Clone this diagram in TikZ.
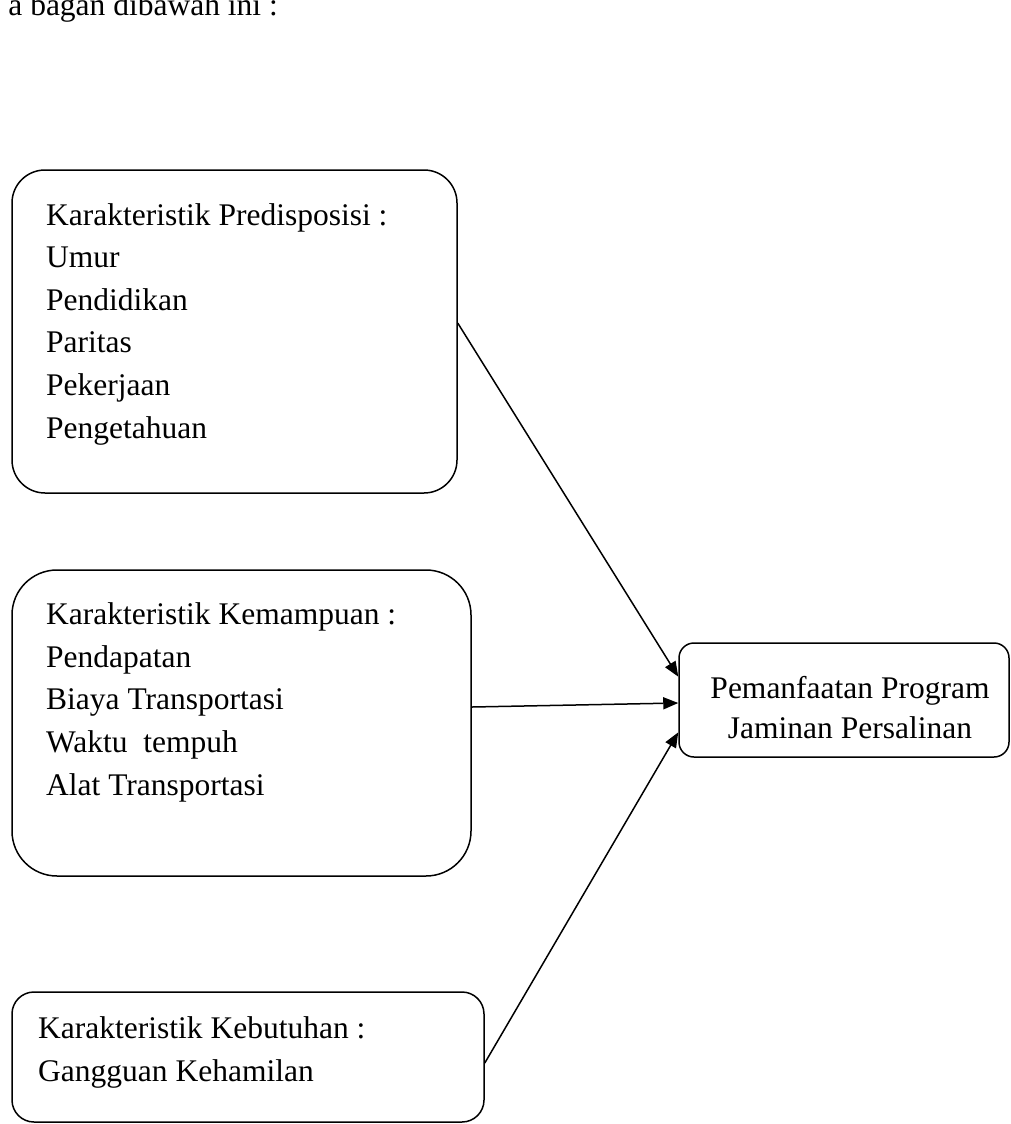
\documentclass[tikz,border=0pt]{standalone}
\usepackage{fontspec}
\setmainfont{Liberation Serif}
\usetikzlibrary{arrows.meta,calc}
\begin{document}
\begin{tikzpicture}[x=1pt,y=-1pt,
  boxshape/.style={draw, line width=1.5pt, inner sep=0pt, rectangle},
  txt/.style={inner sep=0pt, align=left, anchor=base west,
    font={\fontsize{31.5}{42.6}\selectfont}},
  conn/.style={line width=1.5pt, -{Triangle[length=15pt,width=12pt]}}]
\useasboundingbox (0,0) rectangle (1011,1124);
% top cut-off line of text
\node[inner sep=0pt, anchor=base east, font={\fontsize{31.5}{42.6}\selectfont}] (intro) at (278,16) {a bagan dibawah ini :};
% boxes
\node[boxshape, rounded corners=33pt, minimum width=445pt, minimum height=323pt] (b1) at (234.5,331.5) {};
\node[boxshape, rounded corners=45pt, minimum width=459pt, minimum height=306pt] (b2) at (241.5,723) {};
\node[boxshape, rounded corners=22pt, minimum width=472pt, minimum height=130pt] (b3) at (248,1057) {};
\node[boxshape, rounded corners=15pt, minimum width=330pt, minimum height=114pt] (b4) at (844,700) {};
% texts (anchored at the baseline of their last line)
\node[txt] (t1) at (46,438) {Karakteristik Predisposisi :\\Umur\\Pendidikan\\Paritas\\Pekerjaan\\Pengetahuan};
\node[txt] (t2) at (46,795) {Karakteristik Kemampuan :\\Pendapatan\\Biaya Transportasi\\Waktu\ \ tempuh\\Alat Transportasi};
\node[txt] (t3) at (38,1081) {Karakteristik Kebutuhan :\\Gangguan Kehamilan};
\node[txt, align=center, anchor=base, font={\fontsize{31.5}{40}\selectfont}] (t4) at (850,738) {Pemanfaatan Program\\Jaminan Persalinan};
% connectors
\draw[conn] ($(b1.north east)!0.474!(b1.south east)$) -- ($(b4.north west)!0.298!(b4.south west)$);
\draw[conn] ($(b2.north east)!0.448!(b2.south east)$) -- ($(b4.north west)!0.526!(b4.south west)$);
\draw[conn] ($(b3.north east)!0.546!(b3.south east)$) -- ($(b4.north west)!0.78!(b4.south west)$);
\end{tikzpicture}
\end{document}
